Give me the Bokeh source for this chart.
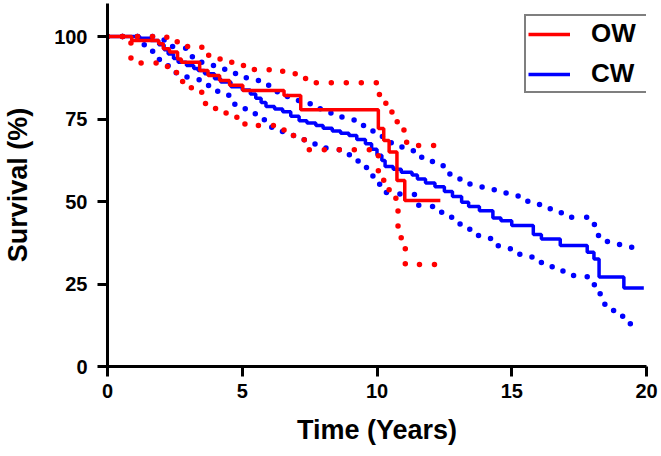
from bokeh.plotting import figure
from bokeh.models import ColumnDataSource, Legend, LegendItem, Range1d, FixedTicker
from bokeh.embed import file_html
from bokeh.resources import INLINE
import math

# ---- data ----
# OW group: Kaplan-Meier estimate (time in years, survival %)
OW_t = [0, 0.9, 1.9, 2.07, 2.3, 2.6, 2.74, 3.42, 3.73, 4.16, 4.53, 5.02, 6.55, 7.17, 10.05, 10.25, 10.45, 10.74, 11.03, 12.35]
OW_s = [100, 98.8, 97.8, 96.3, 95.3, 93.2, 92.2, 89.7, 88.2, 86.7, 85.2, 83.6, 82.1, 77.8, 72.1, 68.5, 65.0, 56.4, 50.3, 50.3]
# OW 95% CI
OW_up_t = [0, 2.2, 2.65, 3.5, 4.0, 4.5, 5.0, 5.45, 6.5, 7.0, 7.35, 10.03, 10.3, 10.55, 10.75, 11.0, 11.1, 12.4]
OW_up_s = [100, 98.4, 97.0, 94.3, 93.2, 92.2, 91.2, 89.9, 88.7, 88.2, 86.0, 82.4, 79.8, 77.1, 73.7, 70.7, 67.0, 67.0]
OW_lo_t = [0, 0.87, 1.9, 2.3, 2.6, 2.95, 3.4, 3.6, 4.0, 4.4, 4.8, 5.1, 6.55, 6.85, 7.1, 7.3, 10.05, 10.25, 10.45, 10.7, 10.78, 11.05, 12.3]
OW_lo_s = [100, 92.0, 90.9, 89.1, 86.4, 84.5, 83.1, 79.7, 78.2, 76.4, 74.9, 73.0, 70.5, 70.0, 68.8, 65.7, 58.0, 54.8, 51.8, 48.8, 39.0, 30.9, 30.9]

# CW group: Kaplan-Meier estimate
CW_t = [0, 1.2, 1.6, 1.9, 2.1, 2.25, 2.45, 2.62, 2.93, 3.2, 3.36, 3.6, 3.97, 4.2, 4.58, 5.0, 5.3, 5.5, 5.7,
        5.88, 6.2, 6.5, 6.8, 7.11, 7.4, 7.73, 8.0, 8.34, 8.65, 8.96, 9.25, 9.57, 9.8, 10.0, 10.18, 10.3,
        10.6, 10.9, 11.3, 11.5, 11.8, 12.15, 12.5, 12.8, 13.14, 13.4, 13.8, 14.3, 14.6, 15.0, 15.8, 16.1,
        16.8, 17.8, 18.05, 18.24, 19.16, 19.9]
CW_s = [100, 99.5, 98.8, 97.5, 96.0, 94.7, 93.3, 92.2, 91.2, 90.3, 89.7, 88.7, 87.2, 86.2, 84.8, 83.8, 82.6, 81.3, 80.0,
        78.8, 78.0, 77.2, 75.8, 74.5, 73.8, 73.0, 72.2, 71.4, 70.7, 70.0, 68.8, 67.5, 65.8, 64.0, 62.4, 60.6,
        59.8, 58.9, 58.0, 56.8, 55.6, 54.5, 53.0, 51.5, 49.8, 48.5, 47.2, 45.0, 44.2, 42.7, 40.0, 38.6,
        36.7, 34.6, 32.6, 27.1, 23.8, 23.8]
# CW 95% CI
CW_up_t = [0, 2.1, 2.9, 3.4, 3.9, 4.35, 4.75, 5.15, 5.6, 6.3, 6.8, 7.3, 7.75, 8.2, 8.7, 9.15, 9.5, 9.85, 10.2, 10.6,
           11.0, 11.45, 11.9, 12.3, 12.65, 13.05, 13.45, 13.9, 14.35, 14.85, 15.25, 15.7, 16.2, 16.65, 17.1, 17.95,
           18.2, 18.55, 19.0, 19.45, 19.6]
CW_up_s = [100, 97.0, 93.9, 92.2, 91.2, 89.7, 87.7, 86.7, 85.2, 81.8, 80.6, 79.6, 78.1, 76.8, 75.5, 74.5, 72.3, 70.2, 67.8, 66.5,
           65.4, 63.4, 62.1, 60.8, 58.3, 56.8, 55.2, 54.3, 52.6, 51.7, 50.1, 49.1, 47.8, 46.6, 45.2, 43.0,
           39.7, 37.5, 36.7, 35.2, 35.2]
CW_lo_t = [0, 1.2, 1.6, 1.9, 2.25, 2.55, 2.95, 3.4, 3.75, 4.2, 4.5, 4.9, 5.35, 5.75, 6.05, 6.45, 6.9, 7.3, 7.7, 8.2,
           8.65, 9.05, 9.45, 9.7, 10.05, 10.35, 10.85, 11.55, 12.1, 12.4, 12.8, 13.15, 13.55, 14.0, 14.4, 14.9, 15.3,
           15.75, 16.1, 16.5, 16.9, 17.8, 18.1, 18.28, 18.65, 19.05, 19.4, 19.6]
CW_lo_s = [100, 97.5, 95.5, 93.0, 91.0, 88.2, 86.9, 85.2, 83.4, 82.2, 79.5, 78.1, 76.6, 74.8, 72.5, 71.2, 70.0, 68.0, 66.2, 65.7,
           64.2, 62.3, 60.3, 57.7, 55.2, 52.6, 52.1, 48.5, 47.7, 45.2, 43.2, 41.6, 39.7, 38.8, 36.6, 35.7, 33.9,
           32.9, 30.9, 29.4, 27.6, 24.8, 22.3, 18.9, 17.0, 15.2, 12.7, 12.7]

x_ticks = [0, 5, 10, 15, 20]
y_ticks = [0, 25, 50, 75, 100]
groups = ["OW", "CW"]

RED = "#ff0000"
BLUE = "#0000ff"
FONT = "Liberation Sans"

p = figure(width=661, height=456, output_backend="svg", toolbar_location=None,
           x_range=Range1d(0, 20), y_range=Range1d(0, 110),
           min_border_left=104, min_border_right=15, min_border_top=3, min_border_bottom=90)
p.outline_line_color = None
p.xgrid.visible = False
p.ygrid.visible = False
p.background_fill_color = "white"

dot = dict(line_dash="0 15", line_cap="round", line_width=5.5)

# CW (blue) first, OW (red) on top
p.step(CW_up_t, CW_up_s, mode="after", line_color=BLUE, **dot)
p.step(CW_lo_t, CW_lo_s, mode="after", line_color=BLUE, **dot)
cw_line = p.step(CW_t, CW_s, mode="after", line_color=BLUE, line_width=3.5)

p.step(OW_up_t, OW_up_s, mode="after", line_color=RED, **dot)
p.step(OW_lo_t, OW_lo_s, mode="after", line_color=RED, **dot)
ow_line = p.step(OW_t, OW_s, mode="after", line_color=RED, line_width=3.5)

# censor-tick symbol for the legend only (no point drawn in the plot: NaN position)
nan = float("nan")
ow_tick = p.scatter([nan], [nan], marker="dash", angle=math.pi / 2,
                    line_color=RED, line_width=3, size=8)
cw_tick = p.scatter([nan], [nan], marker="dash", angle=math.pi / 2,
                    line_color=BLUE, line_width=3, size=8)

legend = Legend(items=[LegendItem(label=groups[0], renderers=[ow_line, ow_tick]),
                       LegendItem(label=groups[1], renderers=[cw_line, cw_tick])],
                location=(417, 273))
legend.border_line_color = "black"
legend.border_line_width = 2
legend.background_fill_color = "white"
legend.background_fill_alpha = 1
legend.label_text_font = FONT
legend.label_text_font_style = "bold"
legend.label_text_font_size = "26px"
legend.label_text_color = "black"
legend.glyph_width = 42
legend.glyph_height = 22
legend.label_standoff = 21
legend.label_width = 53
legend.padding = 2
legend.spacing = 9
legend.margin = 0
p.add_layout(legend, "center")

for ax in (p.xaxis[0], p.yaxis[0]):
    ax.axis_line_width = 3
    ax.axis_line_color = "black"
    ax.major_tick_line_width = 3
    ax.major_tick_line_color = "black"
    ax.major_tick_in = 0
    ax.major_tick_out = 10
    ax.minor_tick_line_color = None
    ax.major_label_text_font = FONT
    ax.major_label_text_font_style = "bold"
    ax.major_label_text_font_size = "20px"
    ax.major_label_text_color = "black"
    ax.axis_label_text_font = FONT
    ax.axis_label_text_font_style = "bold"
    ax.axis_label_text_font_size = "27px"
    ax.axis_label_text_color = "black"

p.xaxis[0].ticker = FixedTicker(ticks=x_ticks)
p.yaxis[0].ticker = FixedTicker(ticks=y_ticks)
p.xaxis[0].axis_label = "Time (Years)"
p.yaxis[0].axis_label = "Survival (%)"
p.xaxis[0].major_label_standoff = 7
p.xaxis[0].axis_label_standoff = 14
p.yaxis[0].major_label_standoff = 10
p.yaxis[0].axis_label_standoff = 18

open("out.html", "w").write(file_html(p, INLINE))
